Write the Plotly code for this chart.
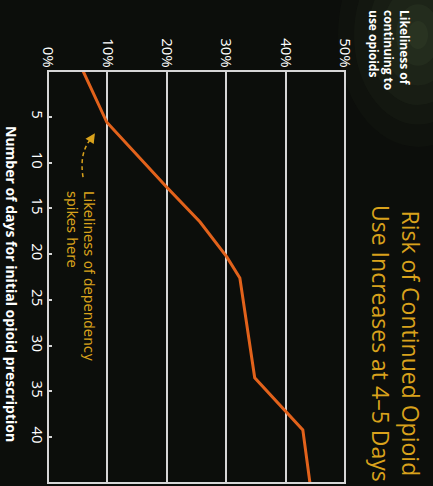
import plotly.graph_objects as go

# Data read from the (rotated) reference chart
days = [0, 5.6, 12.7, 16.5, 20.3, 22.6, 33.5, 39.2, 45]
likelihood = [5.9, 9.9, 20.0, 25.6, 30.1, 32.3, 34.8, 42.9, 44.1]
day_ticks = [5, 10, 15, 20, 25, 30, 35, 40]
pct_ticks = [0, 10, 20, 30, 40, 50]
pct_labels = ["0%", "10%", "20%", "30%", "40%", "50%"]

title_text = "Risk of Continued Opioid<br>Use Increases at 4–5 Days"
y_title = "Likeliness of<br>continuing to<br>use opioids"
x_title = "Number of days for initial opioid prescription"
note_text = "Likeliness of dependency<br>spikes here"

GOLD = "#d9a21c"
BG = "#0c0e0b"
GRID = "#d6d6d6"

W, H = 433, 486
L, R, T, B = 48, 88, 71, 3
pw, ph = W - L - R, H - T - B


def px2paper(px, py):
    return (px - L) / pw, (H - B - py) / ph


fig = go.Figure()
fig.add_trace(go.Scatter(
    x=likelihood, y=days, mode="lines",
    line=dict(color="#e2621b", width=3),
    hoverinfo="skip", showlegend=False,
))

# soft greenish glow in the top-right corner
shapes = []
cx, cy = px2paper(418, 35)
for r, a in [(80, 0.03), (64, 0.04), (50, 0.05), (36, 0.06), (22, 0.07), (10, 0.07)]:
    rx, ry = r / pw, r * 1.4 / ph
    shapes.append(dict(type="circle", xref="paper", yref="paper",
                       x0=cx - rx, x1=cx + rx, y0=cy - ry, y1=cy + ry,
                       fillcolor=f"rgba(125,150,95,{a})", line=dict(width=0), layer="below"))
# frame
shapes.append(dict(type="rect", xref="paper", yref="paper", x0=0, x1=1, y0=0, y1=1,
                   line=dict(color=GRID, width=2), layer="above"))
# dashed curved pointer
shapes.append(dict(type="path", xref="x", yref="y",
                   path="M 5.9 11.6 Q 5.2 8.8 7.4 7.3",
                   line=dict(color=GOLD, width=1.5, dash="4px,3px")))
fig.update_layout(shapes=shapes)

fig.add_annotation(x=7.9, y=6.8, ax=7.3, ay=7.4, xref="x", yref="y", axref="x", ayref="y",
                   text="", showarrow=True, arrowhead=2, arrowsize=1.3, arrowwidth=1.5,
                   arrowcolor=GOLD)

fig.add_annotation(text=note_text, x=5.4, y=12.9, xref="x", yref="y",
                   xanchor="center", yanchor="top", textangle=90, showarrow=False,
                   align="left", font=dict(family="DejaVu Sans", size=13.5, color=GOLD))

tx, ty = px2paper(396, 343)
fig.add_annotation(text=title_text, x=tx, y=ty, xref="paper", yref="paper",
                   xanchor="center", yanchor="middle",
                   showarrow=False, textangle=90, align="center",
                   font=dict(family="Open Sans", size=23, color=GOLD))

lx, ly = px2paper(389, 8)
fig.add_annotation(text="<b>" + y_title + "</b>", x=lx, y=ly, xref="paper", yref="paper",
                   xanchor="center", yanchor="top",
                   showarrow=False, textangle=90, align="left",
                   font=dict(family="Open Sans", size=12, color="white"))

ax_, ay_ = px2paper(12, 284)
fig.add_annotation(text="<b>" + x_title + "</b>", x=ax_, y=ay_, xref="paper", yref="paper",
                   xanchor="center", yanchor="middle",
                   showarrow=False, textangle=90,
                   font=dict(family="Open Sans", size=14, color="white"))

fig.update_layout(
    width=W, height=H,
    margin=dict(l=L, r=R, t=T, b=B, autoexpand=False),
    paper_bgcolor=BG, plot_bgcolor=BG,
    font=dict(family="Open Sans", color="white"),
    xaxis=dict(range=[0, 50], side="top", tickvals=pct_ticks, ticktext=pct_labels,
               tickangle=90, showgrid=True, gridcolor=GRID, gridwidth=2,
               zeroline=False, showline=False, ticks="", automargin=False,
               tickfont=dict(family="Open Sans", size=15, color="white")),
    yaxis=dict(range=[45, 0], tickvals=day_ticks, tickangle=90, showgrid=False,
               zeroline=False, showline=False, ticks="inside", ticklen=4,
               tickcolor=GRID, tickwidth=1.5, automargin=False,
               tickfont=dict(family="Open Sans", size=15, color="white")),
)

fig.write_html(
    "out.html",
    config={"displayModeBar": False},
    post_script="document.body.style.margin='0';document.body.style.background='#0c0e0b';",
)
